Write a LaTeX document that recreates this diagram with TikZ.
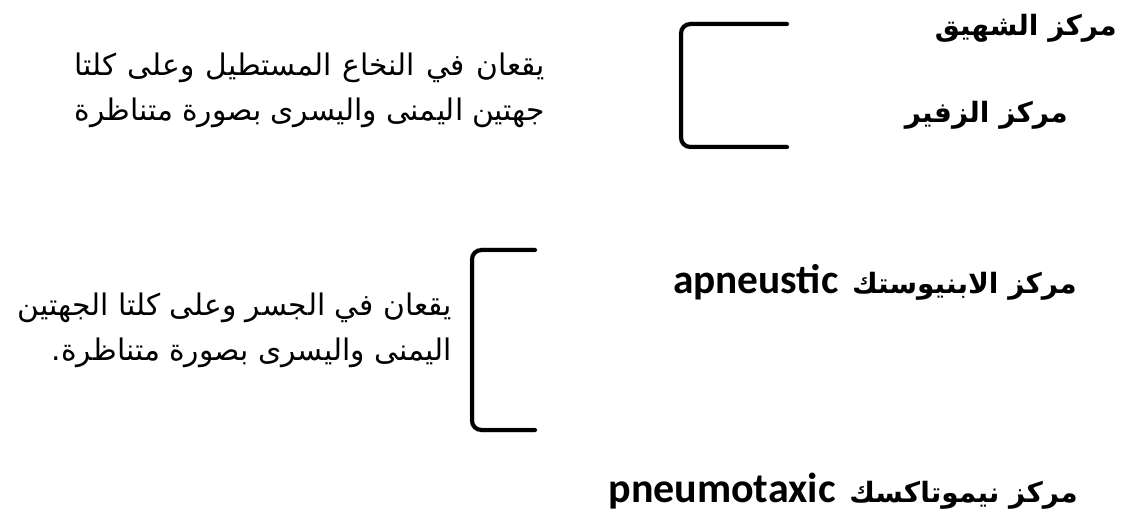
\documentclass[tikz,border=0pt]{standalone}
\usepackage{fontspec}
\TeXXeTstate=1
\newfontfamily\arabicfont[Script=Arabic]{DejaVu Sans}
\newfontfamily\latinfont{Carlito}

\tikzset{
  centre/.style={font=\arabicfont\bfseries\fontsize{21}{25}\selectfont, anchor=east, inner sep=0pt},
  remark/.style={font=\arabicfont\fontsize{22.3}{33.75}\selectfont, align=right, anchor=north east, inner sep=0pt},
  brace/.style={line width=3pt, rounded corners=7pt, line cap=round},
  braceshade/.style={brace, black!30, line width=3.6pt, opacity=.6}
}
\newcommand\latinword[2]{\hspace{3pt}\beginL{\latinfont\bfseries\fontsize{#1}{25}\selectfont #2}\endL}
\newcommand\fullline[1]{\hbox to 352.5pt{\beginR #1\endR}}

\begin{document}
\begin{tikzpicture}[x=0.75pt,y=-0.75pt]
  \useasboundingbox (0,0) rectangle (1125,513);
  \path
    (787,24) coordinate (a1)
    (681,147) coordinate (a2)
    (787,147) coordinate (a3)
    (535,250) coordinate (b1)
    (472,430) coordinate (b2)
    (535,430) coordinate (b3)
    ;
  % respiratory centres
  \node[centre] (inhale) at (1117,28) {\beginR مركز الشهيق\endR};
  \node[centre] (exhale) at (1068,115) {\beginR مركز الزفير\endR};
  \node[centre] (apneu) at (1077,282) {\beginR مركز الابنيوستك \latinword{31}{apneustic}\endR};
  \node[centre] (pneumo) at (1078,491) {\beginR مركز نيموتاكسك \latinword{31.5}{pneumotaxic}\endR};

  % where they lie
  \node[remark] (medulla) at (545,53) {\fullline{يقعان في النخاع المستطيل وعلى كلتا}\\
    \fullline{جهتين اليمنى واليسرى بصورة متناظرة}};
  \node[remark] (pons) at (452,293) {\beginR يقعان في الجسر وعلى كلتا الجهتين\endR\\
    \beginR اليمنى واليسرى بصورة متناظرة.\endR};

  % brackets with a soft shadow
  \foreach \s/\t in {1.5/braceshade,0/brace}{
    \draw[\t, shift={(\s,\s)}] (a1) -| (a2) -- (a3);
    \draw[\t, shift={(\s,\s)}] (b1) -| (b2) -- (b3);
  }
\end{tikzpicture}
\end{document}
